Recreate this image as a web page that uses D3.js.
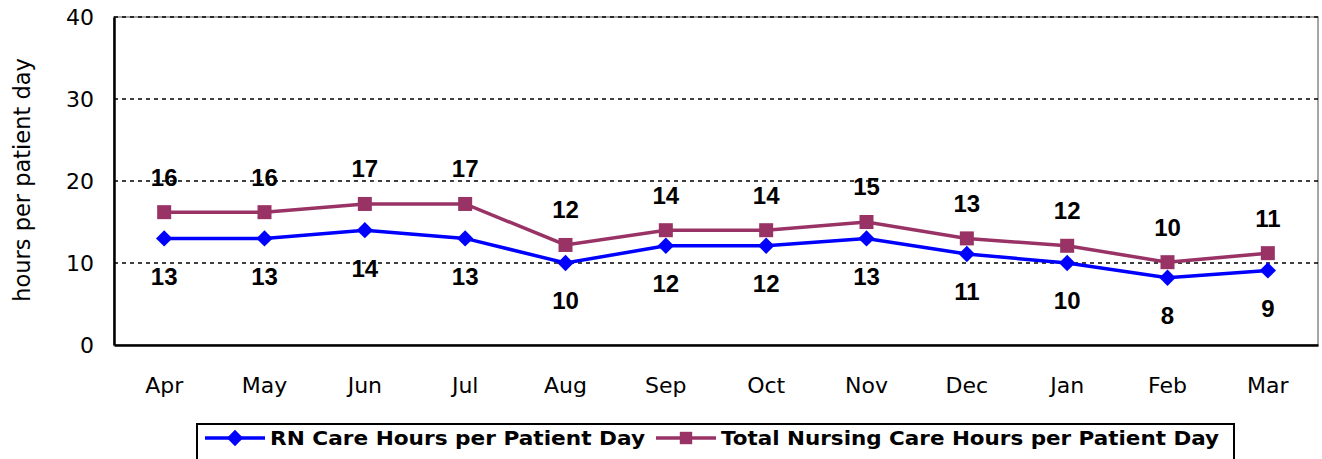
<!DOCTYPE html>
<html>
<head>
<meta charset="utf-8">
<script src="https://cdn.jsdelivr.net/npm/d3@7"></script>
<style>
  body { margin: 0; background: #fff; }
  svg { display: block; }
</style>
</head>
<body>
<div id="chart"></div>
<script>
const width = 1322;
const height = 459;

// data
const months = ['Apr', 'May', 'Jun', 'Jul', 'Aug', 'Sep', 'Oct', 'Nov', 'Dec', 'Jan', 'Feb', 'Mar'];
const rnHours = [13.0, 13.0, 14.0, 13.0, 10.0, 12.1, 12.1, 13.0, 11.1, 10.0, 8.2, 9.1];
const totalHours = [16.2, 16.2, 17.2, 17.2, 12.2, 14.0, 14.0, 15.0, 13.0, 12.1, 10.1, 11.2];
const yTicks = [0, 10, 20, 30, 40];
const seriesNames = ['RN Care Hours per Patient Day', 'Total Nursing Care Hours per Patient Day'];

const margin = {top: 17, right: 4, bottom: 114, left: 114};
const plotW = width - margin.left - margin.right;
const plotH = height - margin.top - margin.bottom;

const blue = '#0000ff';
const maroon = '#993366';
const axisFont = 'DejaVu Sans, Verdana, sans-serif';

const svg = d3.select('#chart').append('svg')
    .attr('width', width)
    .attr('height', height);

const x = d3.scaleBand().domain(months).range([0, plotW]);
const y = d3.scaleLinear().domain([0, 40]).range([plotH, 0]);

const chart = svg.append('g')
    .attr('transform', `translate(${margin.left},${margin.top})`);

// gray frame on top / right
chart.append('rect')
    .attr('width', plotW)
    .attr('height', plotH)
    .attr('fill', 'none')
    .attr('stroke', '#888')
    .attr('stroke-width', 1.5);

// dashed gridlines
chart.selectAll('line.grid')
    .data(yTicks.filter(d => d > 0))
    .join('line')
    .attr('class', 'grid')
    .attr('x1', 0)
    .attr('x2', plotW)
    .attr('y1', d => y(d))
    .attr('y2', d => y(d))
    .attr('stroke', '#000')
    .attr('stroke-width', 1.5)
    .attr('stroke-dasharray', '4,4');

// y axis
const yAxis = chart.append('g')
    .call(d3.axisLeft(y).tickValues(yTicks).tickSize(0).tickPadding(20));
yAxis.select('.domain').attr('stroke', '#000').attr('stroke-width', 2.5);
yAxis.selectAll('text')
    .attr('font-family', axisFont)
    .attr('font-size', 22)
    .attr('fill', '#000');

// x axis
const xAxis = chart.append('g')
    .attr('transform', `translate(0,${plotH})`)
    .call(d3.axisBottom(x).tickSize(0).tickPadding(32));
xAxis.select('.domain').attr('stroke', '#000').attr('stroke-width', 2.5);
xAxis.selectAll('text')
    .attr('font-family', axisFont)
    .attr('font-size', 22)
    .attr('fill', '#000');

// y axis title
svg.append('text')
    .attr('transform', `translate(22,${margin.top + plotH / 2 - 1}) rotate(-90)`)
    .attr('text-anchor', 'middle')
    .attr('dy', '0.35em')
    .attr('font-family', axisFont)
    .attr('font-size', 22.5)
    .text('hours per patient day');

const cx = d => x(d) + x.bandwidth() / 2;

const line = d3.line()
    .x((d, i) => cx(months[i]))
    .y(d => y(d));

// total series
chart.append('path')
    .datum(totalHours)
    .attr('d', line)
    .attr('fill', 'none')
    .attr('stroke', maroon)
    .attr('stroke-width', 3.5);

chart.selectAll('rect.tot')
    .data(totalHours)
    .join('rect')
    .attr('class', 'tot')
    .attr('x', (d, i) => cx(months[i]) - 7)
    .attr('y', d => y(d) - 7)
    .attr('width', 14)
    .attr('height', 14)
    .attr('fill', maroon);

// RN series
chart.append('path')
    .datum(rnHours)
    .attr('d', line)
    .attr('fill', 'none')
    .attr('stroke', blue)
    .attr('stroke-width', 3.5);

const diamond = d3.symbol().type(d3.symbolDiamond2).size(170);
chart.selectAll('path.rn')
    .data(rnHours)
    .join('path')
    .attr('class', 'rn')
    .attr('d', diamond)
    .attr('transform', (d, i) => `translate(${cx(months[i])},${y(d)})`)
    .attr('fill', blue);

// data labels
const labelFont = 'Liberation Sans, Arial, sans-serif';
chart.selectAll('text.totlab')
    .data(totalHours)
    .join('text')
    .attr('class', 'totlab')
    .attr('x', (d, i) => cx(months[i]))
    .attr('y', d => y(d) - 35)
    .attr('dy', '0.35em')
    .attr('text-anchor', 'middle')
    .attr('font-family', labelFont)
    .attr('font-weight', 'bold')
    .attr('font-size', 24)
    .text(d => Math.round(d));

chart.selectAll('text.rnlab')
    .data(rnHours)
    .join('text')
    .attr('class', 'rnlab')
    .attr('x', (d, i) => cx(months[i]))
    .attr('y', d => y(d) + 38)
    .attr('dy', '0.35em')
    .attr('text-anchor', 'middle')
    .attr('font-family', labelFont)
    .attr('font-weight', 'bold')
    .attr('font-size', 24)
    .text(d => Math.round(d));

// legend
const legend = svg.append('g').attr('transform', 'translate(197,424)');
legend.append('rect')
    .attr('width', 1037)
    .attr('height', 45)
    .attr('fill', '#fff')
    .attr('stroke', '#000')
    .attr('stroke-width', 2);

const legendItems = [
    {name: seriesNames[0], color: blue, shape: 'diamond', x: 8, textW: 375},
    {name: seriesNames[1], color: maroon, shape: 'square', x: 459, textW: 498}
];

const items = legend.selectAll('g.item')
    .data(legendItems)
    .join('g')
    .attr('class', 'item')
    .attr('transform', d => `translate(${d.x},14)`);

items.append('line')
    .attr('x1', 0).attr('x2', 60)
    .attr('stroke', d => d.color)
    .attr('stroke-width', 3.5);

items.append('path')
    .attr('d', d => d.shape === 'diamond'
        ? d3.symbol().type(d3.symbolDiamond2).size(170)()
        : d3.symbol().type(d3.symbolSquare2).size(196)())
    .attr('transform', 'translate(30,0)')
    .attr('fill', d => d.color);

items.append('text')
    .attr('x', 65)
    .attr('dy', '0.36em')
    .attr('font-family', axisFont)
    .attr('font-weight', 'bold')
    .attr('font-size', 20)
    .attr('textLength', d => d.textW)
    .attr('lengthAdjust', 'spacingAndGlyphs')
    .text(d => d.name);
</script>
</body>
</html>
